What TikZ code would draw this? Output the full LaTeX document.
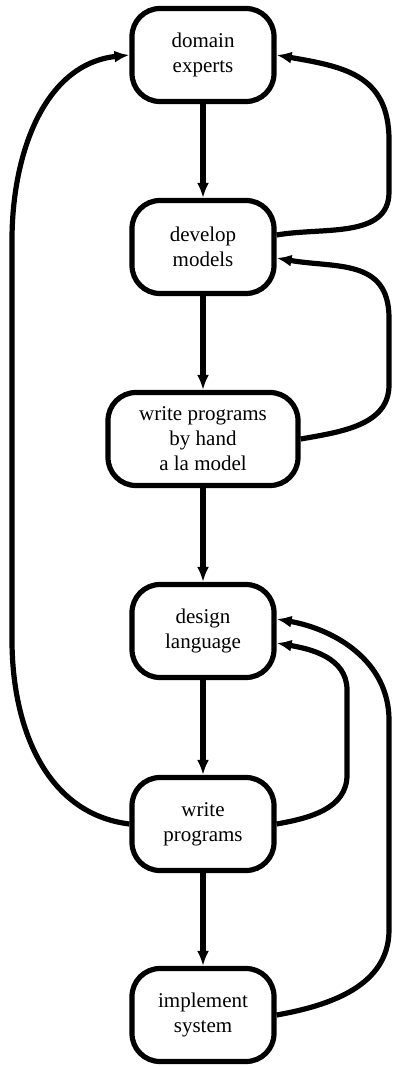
\documentclass[tikz,border=0pt]{standalone}
\usepackage{fontspec}
\setmainfont{Liberation Serif}
\usetikzlibrary{arrows.meta}

\begin{document}
\begin{tikzpicture}[x=0.5pt, y=0.5pt, line width=2.6pt, >={Latex[length=7.5pt,width=6pt]}]
\useasboundingbox (0,0) rectangle (392,-1066);
\begin{scope}[every node/.style={draw, rounded corners=14pt, minimum width=71pt, minimum height=46.5pt, align=center, font=\fontsize{10.5}{12.5}\selectfont}]
    \node (A) at (203,-55) {domain\\experts};
    \node (B) at (203,-247) {develop\\models};
    \node[minimum width=95pt] (C) at (203,-439) {write programs\\by hand\\a la model};
    \node (D) at (203,-631) {design\\language};
    \node (E) at (203,-824) {write\\programs};
    \node (F) at (203,-1015) {implement\\system};
    
    \path [->] (A) edge (B);
    \path [->] (B) edge (C);
    \path [->] (C) edge (D);
    \path [->] (D) edge (E);
    \path [->] (E) edge (F);
\end{scope}
% feedback loops
\draw [->] ([yshift=6pt]B.east) to[out=10, in=-90] (389,-192) -- (389,-140) to[out=90, in=-10, looseness=1.2] (A.east);
\draw [->] (C.east) to[out=10, in=-90] (389,-385) -- (389,-318) to[out=90, in=-10, looseness=1.2] ([yshift=-5.5pt]B.east);
\draw [->] (E.west) to[out=173, in=-90] (12,-640) -- (12,-240) to[out=90, in=186] (A.west);
\draw [->] (E.east) to[out=10, in=-90] (347,-775) -- (347,-690) to[out=90, in=-10] ([yshift=-6pt]D.east);
\draw [->] (F.east) to[out=10, in=-90] (389,-930) -- (389,-720) to[out=90, in=-10] ([yshift=6pt]D.east);
\end{tikzpicture}
\end{document}
